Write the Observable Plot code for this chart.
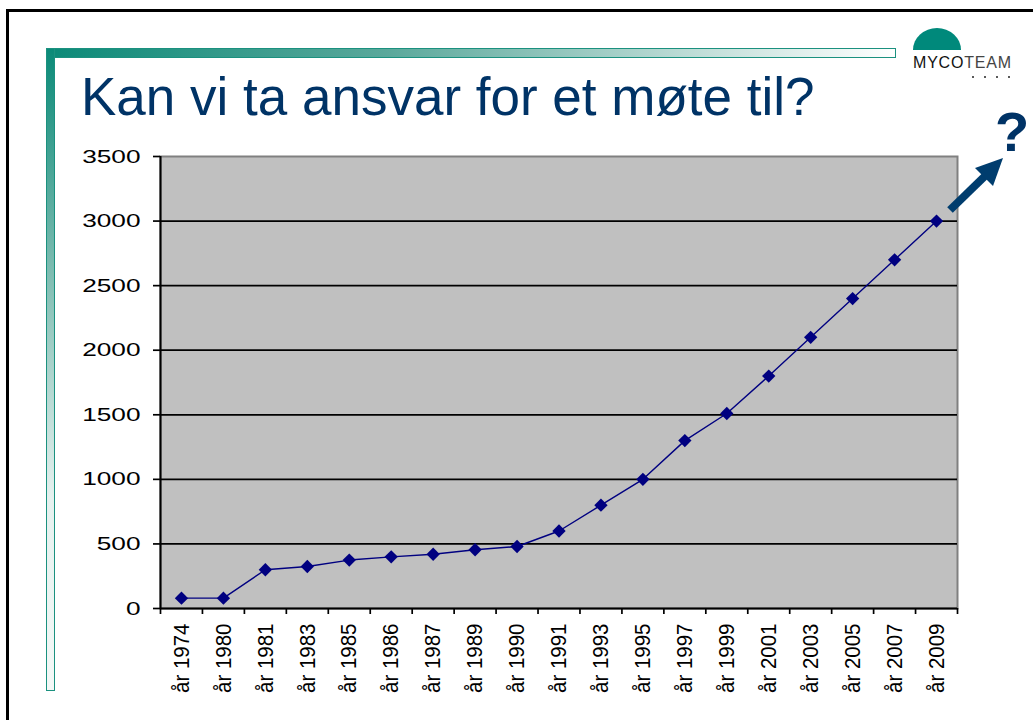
<!DOCTYPE html>
<html>
<head>
<meta charset="utf-8">
<script src="https://cdn.jsdelivr.net/npm/d3@7"></script>
<script src="https://cdn.jsdelivr.net/npm/@observablehq/plot@0.6"></script>
<style>
  body { margin: 0; background: white; }
  #page { position: relative; width: 1033px; height: 720px; overflow: hidden; background: white; font-family: "Liberation Sans", Arial, sans-serif; }
  #frame { position: absolute; left: 6px; top: 9px; width: 1100px; height: 800px; border-top: 3px solid black; border-left: 3px solid black; }
  #hbar { position: absolute; left: 46px; top: 48px; width: 848px; height: 8px; border: 1px solid #1b917f; background: linear-gradient(to right, #0b8a78 0%, #5aa89b 40%, #c9e2dd 80%, #ffffff 100%); }
  #vbar { position: absolute; left: 46px; top: 48px; width: 7px; height: 641px; border: 1px solid #1b917f; background: linear-gradient(to bottom, #0b8a78 0%, #7fbdb2 35%, #e6f1ef 70%, #f4f8f7 100%); }
  #title { position: absolute; left: 81px; top: 70px; font-size: 53px; color: #003366; white-space: nowrap; line-height: 1; }
  #chart { position: absolute; left: 0; top: 0; }
  #logo-semi { position: absolute; left: 913px; top: 28px; width: 48px; height: 22px; background: #00897b; border-radius: 24px 24px 0 0 / 22px 22px 0 0; }
  #logo-text { position: absolute; left: 913px; top: 54px; font-size: 16px; color: #222; white-space: nowrap; letter-spacing: 0.8px; }
  #logo-text b { font-weight: normal; color: #111; }
  #logo-text span { font-weight: 300; color: #444; }
  #qmark { position: absolute; left: 995px; top: 104px; font-size: 56px; font-weight: bold; color: #003366; line-height: 1; }
  #deco { position: absolute; left: 0; top: 0; }
</style>
</head>
<body>
<div id="page">
  <div id="frame"></div>
  <div id="hbar"></div>
  <div id="vbar"></div>
  <div id="title">Kan vi ta ansvar for et møte til?</div>
  <div id="logo-semi"></div>
  <div id="logo-text"><b>MYCO</b><span>TEAM</span></div>
  <div id="chart"></div>
  <svg id="deco" width="1033" height="720">
    <g fill="#222">
      <circle cx="973" cy="77" r="1"></circle>
      <circle cx="985" cy="77" r="1"></circle>
      <circle cx="997" cy="77" r="1"></circle>
      <circle cx="1009" cy="77" r="1"></circle>
    </g>
    <line x1="950" y1="210" x2="985" y2="176" stroke="#003d6e" stroke-width="8"></line>
    <polygon points="1003,158 975,168 993,186" fill="#003d6e"></polygon>
  </svg>
  <div id="qmark">?</div>
</div>
<script>
const categories = ["år 1974","år 1980","år 1981","år 1983","år 1985","år 1986","år 1987","år 1989","år 1990","år 1991","år 1993","år 1995","år 1997","år 1999","år 2001","år 2003","år 2005","år 2007","år 2009"];
const values = [80, 80, 300, 325, 375, 400, 420, 455, 480, 600, 800, 1000, 1300, 1510, 1800, 2100, 2400, 2700, 3000];
const yTicks = [0, 500, 1000, 1500, 2000, 2500, 3000, 3500];

const data = categories.map((c, i) => ({cat: c, i, pos: i + 0.5, value: values[i]}));
const boundaries = d3.range(0, categories.length + 1);

const chart = Plot.plot({
  width: 1033,
  height: 720,
  marginLeft: 160,
  marginRight: 76,
  marginTop: 156,
  marginBottom: 112,
  style: {fontFamily: "Liberation Sans, Arial, sans-serif", background: "transparent", overflow: "visible", color: "black"},
  x: {type: "linear", domain: [0, categories.length]},
  y: {domain: [0, 3500]},
  marks: [
    Plot.frame({fill: "#c0c0c0", stroke: "#808080", strokeWidth: 2}),
    Plot.ruleY(yTicks.filter(t => t > 0 && t < 3500), {stroke: "black", strokeWidth: 1.7}),
    Plot.ruleX([0], {stroke: "black", strokeWidth: 2}),
    Plot.ruleY([0], {stroke: "black", strokeWidth: 2}),
    Plot.axisY({ticks: yTicks, tickSize: 7, tickPadding: 13, tickFormat: d => String(d), fontSize: 19, strokeWidth: 1.7, label: null}),
    Plot.axisX({ticks: boundaries, tickSize: 6, tickFormat: () => "", strokeWidth: 1.7, label: null}),
    Plot.axisX({ticks: data.map(d => d.pos), tickFormat: t => categories[Math.floor(t)], tickRotate: -90, tickSize: 0, tickPadding: 15, fontSize: 20.5, label: null}),
    Plot.line(data, {x: "pos", y: "value", stroke: "#000080", strokeWidth: 1.4}),
    Plot.dot(data, {x: "pos", y: "value", symbol: "diamond2", r: 6, fill: "#000080", stroke: "none"})
  ]
});
document.getElementById("chart").appendChild(chart);

function appendScale(sel, s) {
  sel.each(function() {
    const t = this.getAttribute("transform");
    if (t) {
      this.setAttribute("transform", t + " " + s);
    } else {
      const x = this.getAttribute("x") || 0, y = this.getAttribute("y") || 0;
      this.removeAttribute("x"); this.removeAttribute("y");
      this.setAttribute("transform", `translate(${x},${y}) ${s}`);
    }
  });
}
// widen the digits as in the (horizontally stretched) reference
appendScale(d3.select(chart).selectAll('g[aria-label="y-axis tick label"] text'), "scale(1.38,1)");
appendScale(d3.select(chart).selectAll('g[aria-label="x-axis tick label"] text'), "scale(1,1.1)");
</script>
</body>
</html>
